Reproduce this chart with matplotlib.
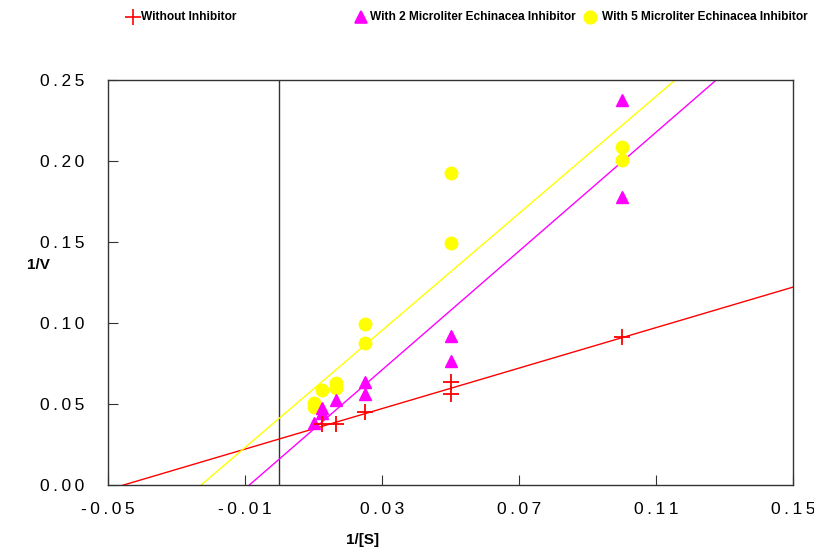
import matplotlib
matplotlib.use("Agg")
import matplotlib.pyplot as plt
import numpy as np
from matplotlib.lines import Line2D

plt.rcParams["font.family"] = ["Liberation Sans", "DejaVu Sans"]

# Lineweaver-Burk data (1/[S], 1/V)
x_none = [0.0125, 0.0167, 0.025, 0.05, 0.05, 0.1]
y_none = [0.0377, 0.0377, 0.045, 0.0636, 0.0562, 0.0914]

x_2ul = [0.01, 0.0125, 0.0125, 0.0167, 0.025, 0.025, 0.05, 0.05, 0.1, 0.1]
y_2ul = [0.0383, 0.0475, 0.0444, 0.0525, 0.0636, 0.0562, 0.092, 0.0765, 0.2377, 0.1778]

x_5ul = [0.01, 0.01, 0.0125, 0.0167, 0.0167, 0.025, 0.025, 0.05, 0.05, 0.1, 0.1]
y_5ul = [0.0506, 0.048, 0.0586, 0.063, 0.060, 0.0994, 0.0877, 0.1926, 0.1494, 0.2086, 0.2006]

# fitted lines: slope, intercept
fit_none = (0.625, 0.0284)
fit_2ul = (1.834, 0.0160)
fit_5ul = (1.806, 0.0412)

x_ticks = [-0.05, -0.01, 0.03, 0.07, 0.11, 0.15]
y_ticks = [0.0, 0.05, 0.10, 0.15, 0.20, 0.25]

RED = "#ff0000"
MAG = "#ff00ff"
YEL = "#ffff00"


def spaced(v):
    # the original tick labels are letter-spaced
    return "\u2009".join(f"{v:.2f}")


fig = plt.figure(figsize=(8.14, 5.5), dpi=100)
ax = fig.add_axes([108 / 814, 65 / 550, 685 / 814, 405 / 550])

xx = np.array([-0.05, 0.15])
for (m, b), c in [(fit_none, RED), (fit_2ul, MAG), (fit_5ul, YEL)]:
    ax.plot(xx, m * xx + b, color=c, lw=1.0, zorder=2)

ax.axvline(0, color="#333333", lw=1.0, zorder=1)

ax.plot(x_5ul, y_5ul, "o", color=YEL, ms=9, mec=YEL, zorder=3)
ax.plot(x_2ul, y_2ul, "^", color=MAG, ms=9, mec=MAG, zorder=3)
ax.plot(x_none, y_none, "+", color=RED, ms=11, mew=1.3, zorder=4)

ax.set_xlim(-0.05, 0.15)
ax.set_ylim(0, 0.25)
ax.set_xticks(x_ticks)
ax.set_yticks(y_ticks)
ax.set_xticklabels([spaced(v) for v in x_ticks])
ax.set_yticklabels([spaced(v) for v in y_ticks])
ax.tick_params(direction="in", length=7, width=0.8, labelsize=12.5,
               colors="#333333", labelcolor="black")
ax.tick_params(axis="y", pad=17)
ax.tick_params(axis="x", pad=12)
for s in ax.spines.values():
    s.set_color("#333333")
    s.set_linewidth(1.0)

fig.text(38 / 814, 1 - 265 / 550, "1/V", fontsize=11, fontweight="bold",
         ha="center", va="center")
fig.text(363 / 814, 1 - 540 / 550, "1/[S]", fontsize=11, fontweight="bold",
         ha="center", va="center")

# legend across the top
ly = 1 - 17 / 550
legend_items = [
    (133, "+", RED, 141, "Without Inhibitor"),
    (361, "^", MAG, 370, "With 2 Microliter Echinacea Inhibitor"),
    (590, "o", YEL, 602, "With 5 Microliter Echinacea Inhibitor"),
]
for mx, mk, c, tx, label in legend_items:
    fig.add_artist(Line2D([mx / 814], [ly], marker=mk, color=c, mec=c,
                          ms=9 if mk != "+" else 11, mew=1.2, ls="none",
                          transform=fig.transFigure))
    fig.text(tx / 814, ly, label, fontsize=8.6, fontweight="bold",
             ha="left", va="center")

fig.savefig("out.png", dpi=100)
